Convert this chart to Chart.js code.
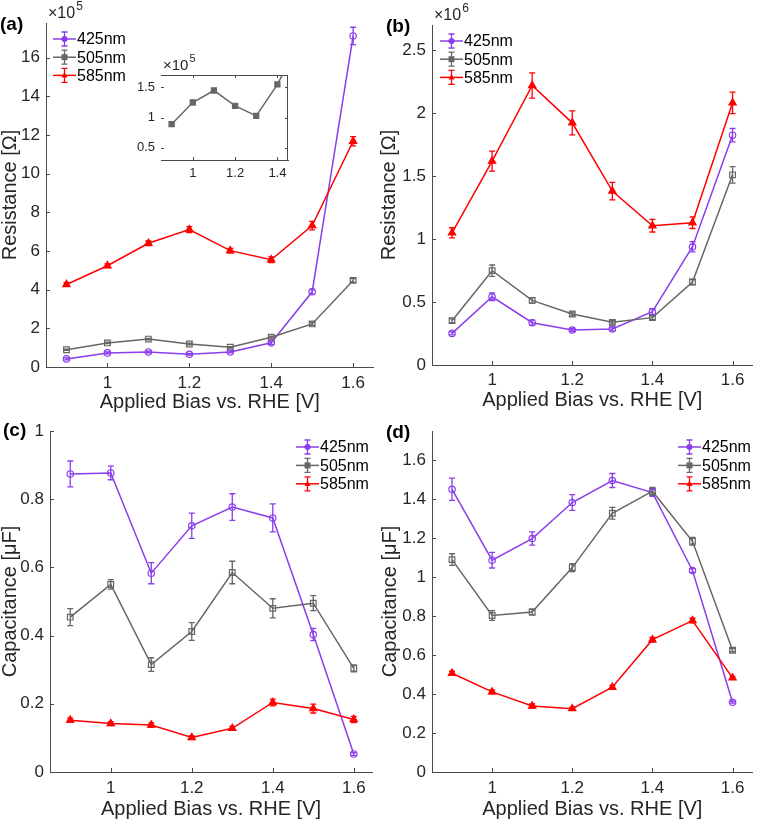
<!DOCTYPE html>
<html><head><meta charset="utf-8">
<script src="https://cdn.jsdelivr.net/npm/chart.js@4"></script>
<style>
html,body{margin:0;padding:0;background:#fff;}
#wrap{position:relative;width:758px;height:819px;overflow:hidden;background:#fff}
canvas{position:absolute;display:block}
</style></head><body>
<div id="wrap">
<canvas id="ca" width="379" height="420" style="left:0;top:0"></canvas>
<canvas id="cb" width="379" height="420" style="left:379px;top:0"></canvas>
<canvas id="cc" width="379" height="414" style="left:0;top:405px"></canvas>
<canvas id="cd" width="379" height="414" style="left:379px;top:405px"></canvas>
<canvas id="ci" width="176" height="135" style="left:120px;top:50px"></canvas>
</div>
<script>
// ---------------- data ----------------
const xValues = [0.9, 1.0, 1.1, 1.2, 1.3, 1.4, 1.5, 1.6];
const seriesNames = ['425nm', '505nm', '585nm'];
const xTicks = [1, 1.2, 1.4, 1.6];
const yTicksA = [0, 2, 4, 6, 8, 10, 12, 14, 16];
const yTicksB = [0, 0.5, 1, 1.5, 2, 2.5];
const yTicksC = [0, 0.2, 0.4, 0.6, 0.8, 1];
const yTicksD = [0, 0.2, 0.4, 0.6, 0.8, 1, 1.2, 1.4, 1.6];
const insetXTicks = [1, 1.2, 1.4];
const insetYTicks = [0.5, 1, 1.5];

// (a) Resistance, x10^5 Ohm
const a425 = [0.42, 0.73, 0.78, 0.66, 0.78, 1.25, 3.89, 17.13];
const a425Err = [0.05, 0.05, 0.05, 0.05, 0.05, 0.08, 0.12, 0.45];
const a505 = [0.89, 1.247, 1.445, 1.19, 1.027, 1.544, 2.23, 4.48];
const a505Err = [0.03, 0.04, 0.04, 0.04, 0.03, 0.05, 0.08, 0.1];
const a585 = [4.27, 5.24, 6.40, 7.11, 6.02, 5.55, 7.32, 11.68];
const a585Err = [0.1, 0.1, 0.12, 0.15, 0.12, 0.15, 0.22, 0.24];

// (b) Resistance, x10^6 Ohm
const b425 = [0.251, 0.542, 0.336, 0.278, 0.286, 0.423, 0.939, 1.825];
const b425Err = [0.012, 0.03, 0.02, 0.012, 0.015, 0.025, 0.04, 0.053];
const b505 = [0.352, 0.749, 0.513, 0.405, 0.339, 0.376, 0.659, 1.51];
const b505Err = [0.015, 0.045, 0.022, 0.015, 0.015, 0.015, 0.02, 0.065];
const b585 = [1.05, 1.619, 2.22, 1.923, 1.381, 1.106, 1.13, 2.082];
const b585Err = [0.04, 0.08, 0.1, 0.095, 0.07, 0.05, 0.046, 0.085];

// (c) Capacitance, uF
const c425 = [0.874, 0.877, 0.583, 0.722, 0.777, 0.745, 0.403, 0.053];
const c425Err = [0.038, 0.02, 0.031, 0.037, 0.039, 0.041, 0.018, 0.004];
const c505 = [0.454, 0.550, 0.315, 0.412, 0.585, 0.480, 0.495, 0.304];
const c505Err = [0.025, 0.014, 0.02, 0.026, 0.033, 0.028, 0.022, 0.01];
const c585 = [0.152, 0.142, 0.138, 0.101, 0.128, 0.204, 0.186, 0.154];
const c585Err = [0.006, 0.006, 0.006, 0.005, 0.006, 0.01, 0.013, 0.009];

// (d) Capacitance, uF
const d425 = [1.451, 1.087, 1.198, 1.383, 1.496, 1.434, 1.034, 0.358];
const d425Err = [0.057, 0.04, 0.034, 0.04, 0.036, 0.02, 0.01, 0.005];
const d505 = [1.09, 0.803, 0.821, 1.049, 1.328, 1.441, 1.184, 0.625];
const d505Err = [0.03, 0.025, 0.015, 0.02, 0.03, 0.02, 0.02, 0.008];
const d585 = [0.507, 0.411, 0.339, 0.325, 0.435, 0.679, 0.777, 0.483];
const d585Err = [0.01, 0.01, 0.01, 0.008, 0.01, 0.012, 0.012, 0.008];

// ---------------- style ----------------
const PURPLE = '#8B3DEB', GRAY = '#666666', RED = '#FF0000';
const AX = '#4a4a4a', TXT = '#262626';
const FONT = "'Liberation Sans', Arial, Helvetica, sans-serif";

function ds(label, vals, errs, color, style, filled, order) {
  return {
    label, errors: errs, order,
    data: xValues.map((x, i) => ({x, y: vals[i]})),
    borderColor: color, backgroundColor: color,
    pointStyle: style,
    pointRadius: style === 'rect' ? 4 : (style === 'triangle' ? 4.2 : 3.2),
    pointBorderColor: color,
    pointBackgroundColor: filled ? color : 'rgba(255,255,255,0)',
    pointBorderWidth: 1.2, pointHoverRadius: 0,
    borderWidth: 1.5, tension: 0
  };
}

function drawMarker(ctx, style, x, y, r, color) {
  ctx.fillStyle = color;
  ctx.beginPath();
  if (style === 'circle') ctx.arc(x, y, r, 0, Math.PI * 2);
  else if (style === 'rect') ctx.rect(x - r, y - r, 2 * r, 2 * r);
  else { ctx.moveTo(x, y - r * 1.1); ctx.lineTo(x + r, y + r * 0.7); ctx.lineTo(x - r, y + r * 0.7); ctx.closePath(); }
  ctx.fill();
}

const deco = {
  id: 'deco',
  beforeDatasetsDraw(chart) {
    const o = chart.options.plugins.deco || {};
    if (o.whiteBg) {
      const a = chart.chartArea, ctx = chart.ctx;
      ctx.save(); ctx.fillStyle = '#fff';
      ctx.fillRect(a.left, a.top, a.right - a.left, a.bottom - a.top);
      ctx.restore();
    }
  },
  afterDatasetsDraw(chart) {
    const o = chart.options.plugins.deco || {};
    const ctx = chart.ctx, a = chart.chartArea;
    const xs = chart.scales.x, ys = chart.scales.y;
    ctx.save();
    // error bars
    chart.data.datasets.forEach(d => {
      if (!d.errors) return;
      ctx.strokeStyle = d.borderColor; ctx.lineWidth = 1.3;
      d.data.forEach((p, i) => {
        const e = d.errors[i];
        const px = xs.getPixelForValue(p.x);
        const y1 = ys.getPixelForValue(p.y - e), y2 = ys.getPixelForValue(p.y + e);
        ctx.beginPath();
        ctx.moveTo(px, y1); ctx.lineTo(px, y2);
        ctx.moveTo(px - 3, y1); ctx.lineTo(px + 3, y1);
        ctx.moveTo(px - 3, y2); ctx.lineTo(px + 3, y2);
        ctx.stroke();
      });
    });
    // inward ticks
    ctx.strokeStyle = AX; ctx.lineWidth = 1;
    const tl = o.tickLen || 4;
    xs.ticks.forEach(t => {
      const px = Math.round(xs.getPixelForValue(t.value)) + 0.5;
      ctx.beginPath(); ctx.moveTo(px, a.bottom); ctx.lineTo(px, a.bottom - tl);
      if (o.box) { ctx.moveTo(px, a.top); ctx.lineTo(px, a.top + tl); }
      ctx.stroke();
    });
    ys.ticks.forEach(t => {
      const py = Math.round(ys.getPixelForValue(t.value)) + 0.5;
      ctx.beginPath(); ctx.moveTo(a.left, py); ctx.lineTo(a.left + tl, py);
      if (o.box) { ctx.moveTo(a.right, py); ctx.lineTo(a.right - tl, py); }
      ctx.stroke();
    });
    if (o.box) {
      ctx.beginPath();
      ctx.moveTo(a.left, Math.round(a.top) + 0.5); ctx.lineTo(a.right, Math.round(a.top) + 0.5);
      ctx.moveTo(Math.round(a.right) - 0.5, a.top); ctx.lineTo(Math.round(a.right) - 0.5, a.bottom);
      ctx.stroke();
    }
    // multiplier label
    if (o.exp) {
      const fs = o.expSize || 16;
      ctx.fillStyle = TXT; ctx.textBaseline = 'middle'; ctx.textAlign = 'left';
      ctx.font = fs + 'px ' + FONT;
      const x0 = a.left + 2, y0 = a.top - 9;
      ctx.fillText('\u00D710', x0, y0);
      const w = ctx.measureText('\u00D710').width;
      ctx.font = Math.round(fs * 0.72) + 'px ' + FONT;
      ctx.fillText(o.exp, x0 + w + 1, y0 - 7);
    }
    // legend
    if (o.legend) {
      const L = o.legend;
      chart.data.datasets.forEach((d, i) => {
        const y = L.y + i * L.dy;
        ctx.strokeStyle = d.borderColor; ctx.lineWidth = 1.5;
        ctx.beginPath(); ctx.moveTo(L.x, y); ctx.lineTo(L.x + 23, y); ctx.stroke();
        const cx = L.x + 11.5;
        ctx.lineWidth = 1.3;
        ctx.beginPath();
        ctx.moveTo(cx, y - 7); ctx.lineTo(cx, y + 7);
        ctx.moveTo(cx - 3, y - 7); ctx.lineTo(cx + 3, y - 7);
        ctx.moveTo(cx - 3, y + 7); ctx.lineTo(cx + 3, y + 7);
        ctx.stroke();
        drawMarker(ctx, d.pointStyle, cx, y, 3, d.borderColor);
        ctx.fillStyle = '#000'; ctx.font = '16px ' + FONT;
        ctx.textBaseline = 'middle'; ctx.textAlign = 'left';
        ctx.fillText(d.label, L.x + 24, y + 1);
      });
    }
    // panel label
    if (o.panel) {
      ctx.fillStyle = '#000'; ctx.font = 'bold 19px ' + FONT;
      ctx.textBaseline = 'middle'; ctx.textAlign = 'left';
      ctx.fillText(o.panel.text, o.panel.x, o.panel.y);
    }
    ctx.restore();
  }
};

function axis(min, max, ticks, fs, pad, fitSize, horiz, title, titlePad) {
  return {
    type: 'linear', min, max,
    afterBuildTicks: s => { s.ticks = ticks.map(v => ({value: v})); },
    afterFit: s => { if (horiz) s.height = fitSize; else s.width = fitSize; },
    grid: {display: false, drawTicks: false, tickLength: 0},
    border: {display: true, color: AX, width: 1},
    ticks: {color: TXT, font: {family: FONT, size: fs}, padding: pad, maxRotation: 0, autoSkip: false,
            callback: v => String(v)},
    title: {display: !!title, text: title || '', color: TXT,
            font: {family: FONT, size: 20, lineHeight: 1},
            padding: {top: titlePad || 0, bottom: 0}}
  };
}

function makeChart(id, datasets, sc, padding, deco_opts) {
  return new Chart(document.getElementById(id), {
    type: 'line',
    data: {datasets},
    options: {
      responsive: false, animation: false, devicePixelRatio: 1,
      layout: {padding},
      scales: sc,
      plugins: {legend: {display: false}, tooltip: {enabled: false}, deco: deco_opts},
      events: []
    },
    plugins: [deco]
  });
}

const XT = 'Applied Bias vs. RHE [V]';

// (a)
makeChart('ca', [
  ds(seriesNames[0], a425, a425Err, PURPLE, 'circle', false, 3),
  ds(seriesNames[1], a505, a505Err, GRAY, 'rect', false, 2),
  ds(seriesNames[2], a585, a585Err, RED, 'triangle', true, 1)
], {
  x: axis(0.85, 1.65, xTicks, 17, 6, 45, true, XT),
  y: axis(0, 17.8, yTicksA, 17, 6, 46, false, 'Resistance [\u03A9]')
}, {left: 0, top: 23, right: 4, bottom: 8},
{exp: '5', legend: {x: 53, y: 39, dy: 18.2}, panel: {text: '(a)', x: 0, y: 25}});

// (b)
makeChart('cb', [
  ds(seriesNames[0], b425, b425Err, PURPLE, 'circle', false, 3),
  ds(seriesNames[1], b505, b505Err, GRAY, 'rect', false, 2),
  ds(seriesNames[2], b585, b585Err, RED, 'triangle', true, 1)
], {
  x: axis(0.85, 1.65, xTicks, 17, 5, 45, true, XT),
  y: axis(0, 2.7, yTicksB, 17, 6, 53, false, 'Resistance [\u03A9]', 0.5)
}, {left: 0, top: 25, right: 1, bottom: 10},
{exp: '6', legend: {x: 61, y: 41, dy: 18.2}, panel: {text: '(b)', x: 7, y: 27}});

// (c)
makeChart('cc', [
  ds(seriesNames[0], c425, c425Err, PURPLE, 'circle', false, 3),
  ds(seriesNames[1], c505, c505Err, GRAY, 'rect', false, 2),
  ds(seriesNames[2], c585, c585Err, RED, 'triangle', true, 1)
], {
  x: axis(0.85, 1.645, xTicks, 17, 6, 47, true, XT),
  y: axis(0, 1, yTicksC, 17, 6, 50, false, 'Capacitance [\u03BCF]')
}, {left: 0, top: 26, right: 7, bottom: 0},
{legend: {x: 296, y: 42, dy: 18.4}, panel: {text: '(c)', x: 3, y: 26}});

// (d)
makeChart('cd', [
  ds(seriesNames[0], d425, d425Err, PURPLE, 'circle', false, 3),
  ds(seriesNames[1], d505, d505Err, GRAY, 'rect', false, 2),
  ds(seriesNames[2], d585, d585Err, RED, 'triangle', true, 1)
], {
  x: axis(0.85, 1.65, xTicks, 17, 6, 47, true, XT),
  y: axis(0, 1.75, yTicksD, 17, 6, 53, false, 'Capacitance [\u03BCF]', 1.5)
}, {left: 0, top: 26, right: 1, bottom: 0},
{legend: {x: 299, y: 42, dy: 18.4}, panel: {text: '(d)', x: 7, y: 28}});

// inset of (a): 505nm
const insetSet = ds(seriesNames[1], a505, null, GRAY, 'rect', true, 1);
insetSet.clip = 0;
insetSet.pointRadius = 3.6;
makeChart('ci', [insetSet], {
  x: axis(0.85, 1.45, insetXTicks, 13, 5.5, 25, true, null),
  y: axis(0.3, 1.7, insetYTicks, 13, 6, 41, false, null)
}, {left: 0, top: 25, right: 8, bottom: 0},
{box: true, whiteBg: true, tickLen: 3, exp: '5', expSize: 15});
</script>
</body></html>
